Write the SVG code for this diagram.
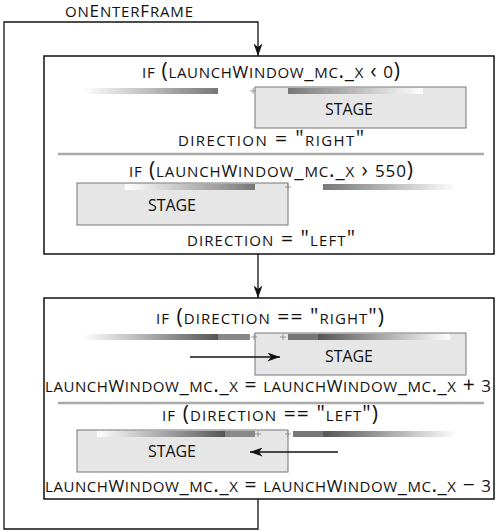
<svg xmlns="http://www.w3.org/2000/svg" width="500" height="532" viewBox="0 0 500 532">
<style>
.t{font-family:"Open Sans","Noto Sans",sans-serif;font-variant:small-caps;font-size:21px;fill:#111;text-anchor:middle}
.C{font-size:17px}
.s{font-family:"Open Sans","Noto Sans",sans-serif;font-size:16px;fill:#111;text-anchor:middle}
.box{fill:#fff;stroke:#111;stroke-width:1.5}
.stage{fill:#e6e6e6;stroke:#777;stroke-width:1}
.sep{stroke:#aaa;stroke-width:2.5}
.ln{stroke:#111;stroke-width:1.3;fill:none}
.pl{stroke:#888;stroke-width:0.8}
</style>
<defs>
<linearGradient id="lr" x1="0" x2="1" y1="0" y2="0"><stop offset="0" stop-color="#fff"/><stop offset="1" stop-color="#777"/></linearGradient>
<linearGradient id="rl" x1="0" x2="1" y1="0" y2="0"><stop offset="0" stop-color="#777"/><stop offset="1" stop-color="#fff"/></linearGradient>
<linearGradient id="lr2" x1="0" x2="1" y1="0" y2="0"><stop offset="0" stop-color="#fff"/><stop offset="1" stop-color="#555"/></linearGradient>
<linearGradient id="rl2" x1="0" x2="1" y1="0" y2="0"><stop offset="0" stop-color="#555"/><stop offset="1" stop-color="#fff"/></linearGradient>
<marker id="ah2" viewBox="0 0 14 10" refX="14" refY="5" markerWidth="14" markerHeight="9" markerUnits="userSpaceOnUse" orient="auto"><path d="M0,0 L14,5 L0,10 L4,5 Z" fill="#111"/></marker>
</defs>
<g id="connectors">
<path class="ln" d="M258,499 V529 H4 V22 H258 V56" marker-end="url(#ah2)"/>
<path class="ln" d="M258,254 V298" marker-end="url(#ah2)"/>
</g>
<text id="label-onEnterFrame" class="t" x="129" y="17" textLength="128" lengthAdjust="spacing">on<tspan class="C">E</tspan>nter<tspan class="C">F</tspan>rame</text>
<g id="box1">
<rect class="box" x="44" y="56" width="450" height="198"/>
<text class="t" x="271" y="78" textLength="258" lengthAdjust="spacing">if (launch<tspan class="C">W</tspan>indow_mc._x ‹ <tspan class="C">0</tspan>)</text>
<rect x="83" y="88" width="135" height="6" fill="url(#lr)"/>
<rect class="stage" x="255" y="87" width="211" height="41"/>
<rect x="288" y="88" width="135" height="6" fill="url(#rl)"/>
<path class="pl" d="M250,91 h6 M253,88 v6"/>
<text class="s" x="349" y="115" textLength="48" lengthAdjust="spacing">STAGE</text>
<text class="t" x="271" y="146" textLength="186" lengthAdjust="spacing">direction = "right"</text>
<line class="sep" x1="58" y1="154" x2="484" y2="154"/>
<text class="t" x="271" y="177" textLength="284" lengthAdjust="spacing">if (launch<tspan class="C">W</tspan>indow_mc._x › <tspan class="C">550</tspan>)</text>
<rect class="stage" x="77" y="183" width="211" height="42"/>
<rect x="125" y="184" width="130" height="6" fill="url(#lr)"/>
<rect x="323" y="184" width="134" height="6" fill="url(#rl)"/>
<path class="pl" d="M285,187 h6 M288,184 v6"/>
<text class="s" x="172" y="211" textLength="48" lengthAdjust="spacing">STAGE</text>
<text class="t" x="271" y="246" textLength="168" lengthAdjust="spacing">direction = "left"</text>
</g>
<g id="box2">
<rect class="box" x="44" y="298" width="450" height="201"/>
<text class="t" x="270" y="324" textLength="228" lengthAdjust="spacing">if (direction == "right")</text>
<rect x="83" y="334" width="135" height="6" fill="url(#lr2)"/>
<rect x="218" y="334" width="32" height="6" fill="#888"/>
<rect class="stage" x="255" y="333" width="211" height="42"/>
<rect x="288" y="334" width="30" height="6" fill="#777"/>
<rect x="318" y="334" width="132" height="6" fill="url(#rl2)"/>
<path class="pl" d="M251,337 h6 M254,334 v6 M280,337 h6 M283,334 v6"/>
<line class="ln" x1="190" y1="357" x2="280" y2="357" marker-end="url(#ah2)"/>
<text class="s" x="349" y="362" textLength="48" lengthAdjust="spacing">STAGE</text>
<text class="t" x="268" y="392" textLength="446" lengthAdjust="spacing">launch<tspan class="C">W</tspan>indow_mc._x = launch<tspan class="C">W</tspan>indow_mc._x + <tspan class="C">3</tspan></text>
<line class="sep" x1="58" y1="403" x2="484" y2="403"/>
<text class="t" x="270" y="421" textLength="216" lengthAdjust="spacing">if (direction == "left")</text>
<rect class="stage" x="77" y="430" width="211" height="42"/>
<rect x="97" y="431" width="128" height="6" fill="url(#lr2)"/>
<rect x="225" y="431" width="30" height="6" fill="#888"/>
<rect x="293" y="431" width="30" height="6" fill="#777"/>
<rect x="323" y="431" width="134" height="6" fill="url(#rl2)"/>
<path class="pl" d="M255,434 h6 M258,431 v6 M285,434 h6 M288,431 v6"/>
<line class="ln" x1="338" y1="452" x2="250" y2="452" marker-end="url(#ah2)"/>
<text class="s" x="172" y="457" textLength="48" lengthAdjust="spacing">STAGE</text>
<text class="t" x="268" y="492" textLength="446" lengthAdjust="spacing">launch<tspan class="C">W</tspan>indow_mc._x = launch<tspan class="C">W</tspan>indow_mc._x − <tspan class="C">3</tspan></text>
</g>
</svg>
